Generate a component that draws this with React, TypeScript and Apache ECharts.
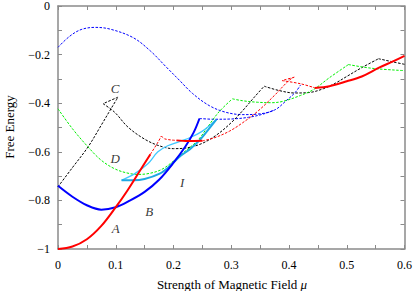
import React, { useEffect, useRef } from "react";
import * as echarts from "echarts";

// ---- data (x = field strength mu, y = free energy) ----
const redSolidA = [[0, -1], [0.025, -0.99], [0.05, -0.96], [0.075, -0.905], [0.1, -0.828], [0.12, -0.76], [0.14, -0.685], [0.16, -0.61]];
const redDash1 = [[0.16, -0.61], [0.172, -0.565], [0.179, -0.535]];
const redDash2 = [[0.179, -0.535], [0.185, -0.547], [0.205, -0.553]];
const redSolidB = [[0.205, -0.553], [0.225, -0.556], [0.25, -0.555]];
const redDash3 = [[0.25, -0.555], [0.27, -0.543], [0.297, -0.515], [0.32, -0.48], [0.345, -0.435], [0.374, -0.37], [0.4, -0.306], [0.409, -0.293]];
const redDash4 = [[0.409, -0.293], [0.388, -0.307]];
const redDash5 = [[0.388, -0.307], [0.42, -0.32], [0.445, -0.337]];
const redSolidC = [[0.445, -0.337], [0.47, -0.33], [0.5, -0.31], [0.526, -0.29], [0.555, -0.255], [0.58, -0.228], [0.6, -0.205]];

const blueSolidB = [[0, -0.74], [0.025, -0.785], [0.05, -0.82], [0.075, -0.838], [0.1, -0.828], [0.125, -0.8], [0.15, -0.765], [0.175, -0.715], [0.2, -0.645], [0.22, -0.58], [0.235, -0.52], [0.245, -0.463]];
const blueDashLow = [[0.245, -0.463], [0.27, -0.466], [0.3, -0.465], [0.33, -0.458], [0.355, -0.445], [0.375, -0.428]];
const blueDashTop = [[0, -0.17], [0.02, -0.125], [0.04, -0.097], [0.064, -0.088], [0.09, -0.095], [0.13, -0.13], [0.16, -0.185], [0.187, -0.25], [0.21, -0.305], [0.233, -0.36], [0.262, -0.41], [0.29, -0.437], [0.32, -0.447], [0.345, -0.445], [0.375, -0.428], [0.395, -0.39], [0.411, -0.355], [0.42, -0.325]];

const blackDash1 = [[0, -0.744], [0.025, -0.665], [0.052, -0.58], [0.075, -0.49], [0.095, -0.41], [0.104, -0.375]];
const blackDash2 = [[0.104, -0.375], [0.078, -0.402]];
const blackDash3 = [[0.078, -0.402], [0.098, -0.437], [0.121, -0.498], [0.15, -0.548], [0.175, -0.575], [0.2, -0.587], [0.225, -0.583], [0.25, -0.565], [0.275, -0.53], [0.3, -0.48], [0.32, -0.43], [0.34, -0.375], [0.357, -0.33]];
const blackDash4 = [[0.357, -0.33], [0.383, -0.348], [0.41, -0.358], [0.435, -0.356], [0.46, -0.34], [0.48, -0.318], [0.5, -0.29], [0.525, -0.255], [0.555, -0.217]];
const blackDash5 = [[0.555, -0.217], [0.58, -0.23], [0.6, -0.24]];

const greenDash1 = [[0, -0.423], [0.025, -0.505], [0.052, -0.58], [0.075, -0.635], [0.1, -0.672], [0.125, -0.69], [0.14, -0.693], [0.16, -0.688], [0.18, -0.672], [0.2, -0.638], [0.22, -0.598], [0.242, -0.553], [0.26, -0.495], [0.279, -0.435], [0.302, -0.382]];
const greenDash2 = [[0.302, -0.382], [0.32, -0.39], [0.345, -0.396], [0.37, -0.398], [0.39, -0.392], [0.42, -0.368], [0.443, -0.343], [0.47, -0.295], [0.503, -0.241]];
const greenDash3 = [[0.503, -0.241], [0.53, -0.252], [0.555, -0.259], [0.6, -0.266]];

const cyanThick = [[0.11, -0.717], [0.13, -0.717], [0.15, -0.712], [0.176, -0.69], [0.193, -0.66], [0.21, -0.621], [0.228, -0.59], [0.245, -0.553], [0.26, -0.51], [0.274, -0.468]];
const cyanLight = [[0.11, -0.717], [0.133, -0.69], [0.156, -0.648], [0.173, -0.6], [0.19, -0.575], [0.21, -0.558], [0.23, -0.54], [0.25, -0.515], [0.274, -0.468]];

const curveLabels = [
  { text: "A", x: 0.1, y: -0.915 },
  { text: "B", x: 0.158, y: -0.845 },
  { text: "C", x: 0.099, y: -0.34 },
  { text: "D", x: 0.099, y: -0.628 },
  { text: "I", x: 0.215, y: -0.728 },
];

const xTicks = [0, 0.1, 0.2, 0.3, 0.4, 0.5, 0.6];
const yTicks = [0, -0.2, -0.4, -0.6, -0.8, -1];

const RED = "#ff0000";
const BLUE = "#0000ff";
const GREEN = "#00f000";
const BLACK = "#000000";
const CYAN_T = "#1ea8e4";
const CYAN_L = "#40c8ff";

const FONT = "'Liberation Serif', 'DejaVu Serif', serif";

function seg(data: number[][], color: string, width: number, dashed: boolean, z = 2) {
  return {
    type: "line",
    data,
    smooth: 0.35,
    showSymbol: false,
    symbol: "none",
    z,
    lineStyle: { color, width, type: dashed ? [2.5, 1.5] : "solid" },
    silent: true,
  };
}

export default function App() {
  const ref = useRef<HTMLDivElement>(null);
  useEffect(() => {
    if (!ref.current) return;
    const chart = echarts.init(ref.current, null, { renderer: "svg" });
    const axisColor = "#8a8a8a";
    const fmtX = (v: number) => {
      const k = Math.round(v * 20);
      if (k % 2 !== 0) return "";
      const t = xTicks.find((a) => Math.abs(a - v) < 1e-6);
      return t === undefined ? "" : String(t);
    };
    const fmtY = (v: number) => {
      const t = yTicks.find((a) => Math.abs(a - v) < 1e-6);
      if (t === undefined) return "";
      return t === 0 ? "0" : "\u2212" + String(Math.abs(t));
    };
    const baseAxis = {
      type: "value",
      axisLine: { show: true, onZero: false, lineStyle: { color: axisColor, width: 1.5 } },
      axisTick: { show: true, inside: true, length: 4, lineStyle: { color: axisColor, width: 1 } },
      splitLine: { show: false },
    };
    const option: any = {
      animation: false,
      backgroundColor: "#ffffff",
      grid: { left: 58, right: 9, top: 5, bottom: 42, containLabel: false },
      xAxis: [
        {
          ...baseAxis,
          position: "bottom",
          min: 0,
          max: 0.6,
          interval: 0.05,
          axisLabel: { formatter: fmtX, margin: 10, color: "#000", fontFamily: FONT, fontSize: 12 },
        },
        {
          ...baseAxis,
          position: "top",
          min: 0,
          max: 0.6,
          interval: 0.05,
          axisLabel: { show: false },
        },
      ],
      yAxis: [
        {
          ...baseAxis,
          position: "left",
          min: -1,
          max: 0,
          interval: 0.1,
          axisLabel: { formatter: fmtY, margin: 8, color: "#000", fontFamily: FONT, fontSize: 12 },
        },
        {
          ...baseAxis,
          position: "right",
          min: -1,
          max: 0,
          interval: 0.1,
          axisLabel: { show: false },
        },
      ],
      series: [
        seg(blueDashTop, BLUE, 1, true),
        seg(blueDashLow, BLUE, 1, true),
        seg(blackDash1, BLACK, 1, true),
        seg(blackDash2, BLACK, 1, true),
        seg(blackDash3, BLACK, 1, true),
        seg(blackDash4, BLACK, 1, true),
        seg(blackDash5, BLACK, 1, true),
        seg(greenDash1, GREEN, 1, true),
        seg(greenDash2, GREEN, 1, true),
        seg(greenDash3, GREEN, 1, true),
        seg(redDash1, RED, 1, true),
        seg(redDash2, RED, 1, true),
        seg(redDash3, RED, 1, true),
        seg(redDash4, RED, 1, true),
        seg(redDash5, RED, 1, true),
        seg(cyanLight, CYAN_L, 1.3, false, 3),
        seg(cyanThick, CYAN_T, 2, false, 3),
        seg(blueSolidB, BLUE, 2, false, 4),
        seg(redSolidA, RED, 2, false, 4),
        seg(redSolidB, RED, 2, false, 4),
        seg(redSolidC, RED, 2, false, 4),
        {
          type: "scatter",
          data: curveLabels.map((l) => [l.x, l.y, l.text]),
          symbolSize: 0,
          silent: true,
          z: 5,
          label: {
            show: true,
            position: "inside",
            formatter: (p: any) => p.data[2],
            color: "#000",
            fontFamily: FONT,
            fontStyle: "italic",
            fontSize: 13,
          },
        },
      ],
      graphic: [
        {
          type: "text",
          x: 232,
          y: 284,
          style: {
            text: "Strength of Magnetic Field {i|\u03bc}",
            font: `13px ${FONT}`,
            fill: "#000",
            align: "center",
            verticalAlign: "middle",
            rich: { i: { fontStyle: "italic", fontFamily: FONT, fontSize: 13 } },
          },
        },
        {
          type: "text",
          x: 3,
          y: 127,
          rotation: Math.PI / 2,
          style: {
            text: "Free Energy",
            font: `13px ${FONT}`,
            fill: "#000",
            align: "center",
            verticalAlign: "top",
          },
        },
      ],
    };
    chart.setOption(option);
    return () => chart.dispose();
  }, []);
  return <div ref={ref} style={{ position: "fixed", left: 0, top: 0, width: 415, height: 291, background: "#fff" }} />;
}
